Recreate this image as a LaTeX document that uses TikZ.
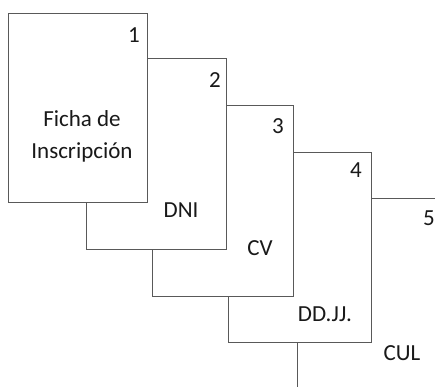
\documentclass[tikz,border=0pt]{standalone}
\usepackage{fontspec}
\setmainfont{Carlito}
\begin{document}
\begin{tikzpicture}[x=1pt,y=-1pt,
  page/.style={draw=black!65,line width=0.9pt,fill=white,rectangle,inner sep=0pt,anchor=north west},
  lbl/.style={font=\fontsize{23}{28}\selectfont,text=black!90,inner sep=0pt,align=center}]
\useasboundingbox (0,0) rectangle (435,386);
\node[page,minimum width=140pt,minimum height=190pt] (p5) at (297,198) {};
\node[page,minimum width=143pt,minimum height=190pt] (p4) at (228,152) {};
\node[page,minimum width=141pt,minimum height=191pt] (p3) at (152,105) {};
\node[page,minimum width=140pt,minimum height=191pt] (p2) at (86,58) {};
\node[page,minimum width=139pt,minimum height=189pt] (p1) at (8,13) {};
\node[lbl,anchor=east] (n1) at (140,35) {1};
\node[lbl,anchor=east] (n2) at (221,80) {2};
\node[lbl,anchor=east] (n3) at (284,126) {3};
\node[lbl,anchor=east] (n4) at (362,170) {4};
\node[lbl,anchor=east] (n5) at (435,218) {5};
\node[lbl] (t1) at (82,136) {Ficha de\\[4pt]Inscripción};
\node[lbl] (t2) at (181,210) {DNI};
\node[lbl] (t3) at (260,248) {CV};
\node[lbl] (t4) at (325,314) {DD.JJ.};
\node[lbl] (t5) at (402,353) {CUL};
\end{tikzpicture}
\end{document}
